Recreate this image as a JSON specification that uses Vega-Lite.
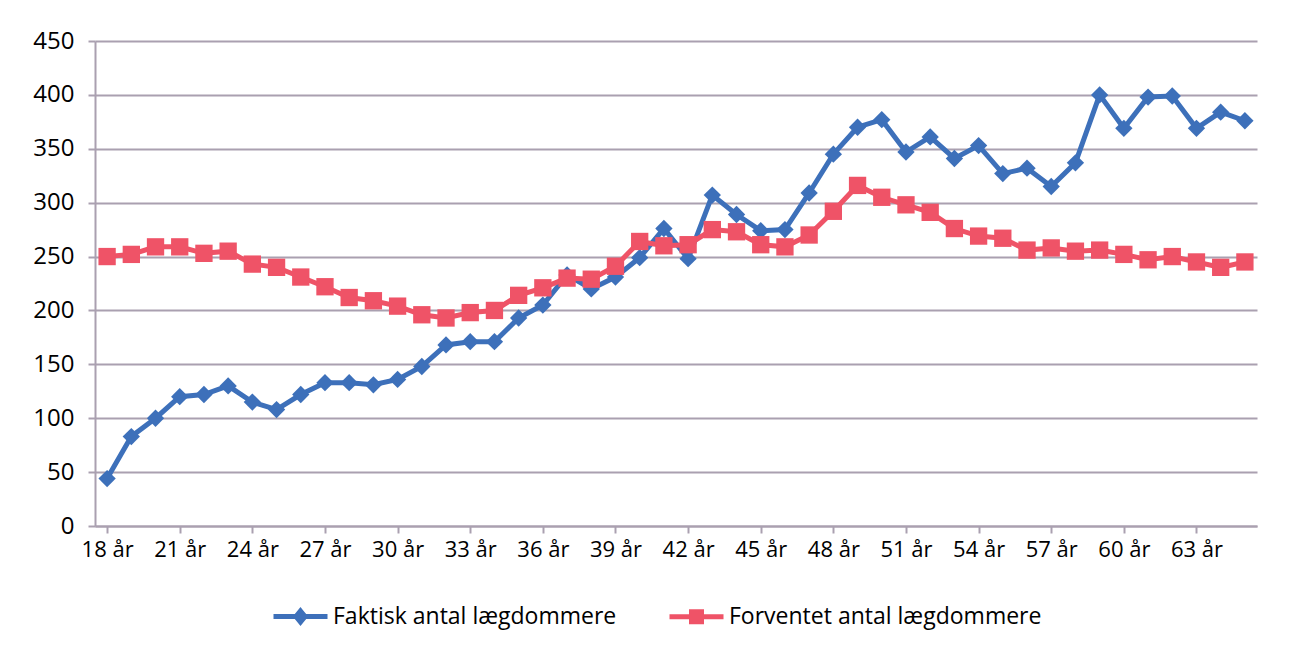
{
  "$schema": "https://vega.github.io/schema/vega-lite/v6.json",
  "autosize": {"type": "none"},
  "padding": {"left": 95, "top": 41, "right": 33, "bottom": 124},
  "width": 1162,
  "height": 485,
  "background": "white",
  "config": {
    "view": {"stroke": null},
    "font": "Open Sans",
    "axis": {
      "labelFont": "Open Sans",
      "labelFontSize": 22,
      "labelColor": "#000000",
      "gridColor": "#aaa0b0",
      "gridWidth": 2,
      "domainColor": "#aaa0b0",
      "domainWidth": 2,
      "tickColor": "#aaa0b0",
      "tickWidth": 2,
      "tickSize": 7,
      "title": null
    },
    "legend": {
      "labelFont": "Open Sans",
      "labelFontSize": 23,
      "labelColor": "#000000",
      "labelLimit": 500
    }
  },
  "data": {
    "values": [
      {"age": "18 år", "f": 44, "e": 250},
      {"age": "19 år", "f": 83, "e": 252},
      {"age": "20 år", "f": 100, "e": 259},
      {"age": "21 år", "f": 120, "e": 259},
      {"age": "22 år", "f": 122, "e": 253},
      {"age": "23 år", "f": 130, "e": 255},
      {"age": "24 år", "f": 115, "e": 243},
      {"age": "25 år", "f": 108, "e": 240},
      {"age": "26 år", "f": 122, "e": 231},
      {"age": "27 år", "f": 133, "e": 222},
      {"age": "28 år", "f": 133, "e": 212},
      {"age": "29 år", "f": 131, "e": 209},
      {"age": "30 år", "f": 136, "e": 204},
      {"age": "31 år", "f": 148, "e": 196},
      {"age": "32 år", "f": 168, "e": 193},
      {"age": "33 år", "f": 171, "e": 198},
      {"age": "34 år", "f": 171, "e": 200},
      {"age": "35 år", "f": 193, "e": 214},
      {"age": "36 år", "f": 205, "e": 221},
      {"age": "37 år", "f": 233, "e": 230},
      {"age": "38 år", "f": 220, "e": 229},
      {"age": "39 år", "f": 231, "e": 241},
      {"age": "40 år", "f": 249, "e": 264},
      {"age": "41 år", "f": 276, "e": 260},
      {"age": "42 år", "f": 248, "e": 261},
      {"age": "43 år", "f": 307, "e": 275},
      {"age": "44 år", "f": 289, "e": 273},
      {"age": "45 år", "f": 274, "e": 261},
      {"age": "46 år", "f": 275, "e": 259},
      {"age": "47 år", "f": 309, "e": 270},
      {"age": "48 år", "f": 345, "e": 292},
      {"age": "49 år", "f": 370, "e": 316},
      {"age": "50 år", "f": 377, "e": 305},
      {"age": "51 år", "f": 347, "e": 298},
      {"age": "52 år", "f": 361, "e": 291},
      {"age": "53 år", "f": 341, "e": 276},
      {"age": "54 år", "f": 353, "e": 269},
      {"age": "55 år", "f": 327, "e": 267},
      {"age": "56 år", "f": 332, "e": 256},
      {"age": "57 år", "f": 315, "e": 258},
      {"age": "58 år", "f": 337, "e": 255},
      {"age": "59 år", "f": 400, "e": 256},
      {"age": "60 år", "f": 369, "e": 252},
      {"age": "61 år", "f": 398, "e": 247},
      {"age": "62 år", "f": 399, "e": 250},
      {"age": "63 år", "f": 369, "e": 245},
      {"age": "64 år", "f": 384, "e": 240},
      {"age": "65 år", "f": 376, "e": 245}
    ]
  },
  "transform": [
    {"fold": ["f", "e"], "as": ["key", "value"]},
    {"lookup": "key", "from": {"data": {"values": [
      {"key": "f", "series": "Faktisk antal lægdommere"},
      {"key": "e", "series": "Forventet antal lægdommere"}
    ]}, "key": "key", "fields": ["series"]}}
  ],
  "encoding": {
    "x": {
      "field": "age",
      "type": "ordinal",
      "sort": null,
      "scale": {"paddingInner": 0, "paddingOuter": 0},
      "axis": {
        "values": ["18 år", "21 år", "24 år", "27 år", "30 år", "33 år", "36 år", "39 år", "42 år", "45 år", "48 år", "51 år", "54 år", "57 år", "60 år", "63 år"],
        "labelAngle": 0,
        "bandPosition": 0,
        "labelOffset": 0,
        "labelPadding": 6,
        "grid": false,
        "domain": true
      }
    },
    "y": {
      "field": "value",
      "type": "quantitative",
      "scale": {"domain": [0, 450], "nice": false, "zero": true},
      "axis": {
        "values": [0, 50, 100, 150, 200, 250, 300, 350, 400, 450],
        "grid": true,
        "domain": true,
        "labelFontSize": 24,
        "labelPadding": 14
      }
    },
    "color": {
      "field": "series",
      "type": "nominal",
      "scale": {
        "domain": ["Faktisk antal lægdommere", "Forventet antal lægdommere"],
        "range": ["#3d70ba", "#ef5367"]
      },
      "legend": {
        "title": null,
        "orient": "none",
        "direction": "horizontal",
        "legendX": 193,
        "legendY": 563,
        "symbolSize": 400,
        "labelOffset": 20,
        "columnPadding": 42,
        "encode": {
          "symbols": {
            "update": {
              "fill": {"signal": "scale('color', datum.value)"},
              "stroke": {"signal": "scale('color', datum.value)"},
              "strokeWidth": {"value": 5},
              "opacity": {"value": 1},
              "fillOpacity": {"value": 1},
              "strokeOpacity": {"value": 1}
            }
          }
        }
      }
    }
  },
  "layer": [
    {
      "mark": {"type": "line", "strokeWidth": 5},
      "encoding": {
        "shape": {
          "field": "series",
          "type": "nominal",
          "scale": {
            "domain": ["Faktisk antal lægdommere", "Forventet antal lægdommere"],
            "range": ["M-2.7,0H2.7M0,-0.55L0.45,0L0,0.55L-0.45,0Z", "M-2.7,0H2.7M-0.5,-0.5H0.5V0.5H-0.5Z"]
          },
          "legend": {
            "title": null,
            "orient": "none",
            "direction": "horizontal",
            "legendX": 193,
            "legendY": 563,
            "symbolSize": 400,
            "labelOffset": 20,
            "columnPadding": 42
          }
        }
      }
    },
    {
      "transform": [{"filter": "datum.key === 'f'"}],
      "mark": {"type": "point", "filled": true, "size": 300, "opacity": 1, "shape": "diamond"}
    },
    {
      "transform": [{"filter": "datum.key === 'e'"}],
      "mark": {"type": "point", "filled": true, "size": 300, "opacity": 1, "shape": "square"}
    }
  ]
}
